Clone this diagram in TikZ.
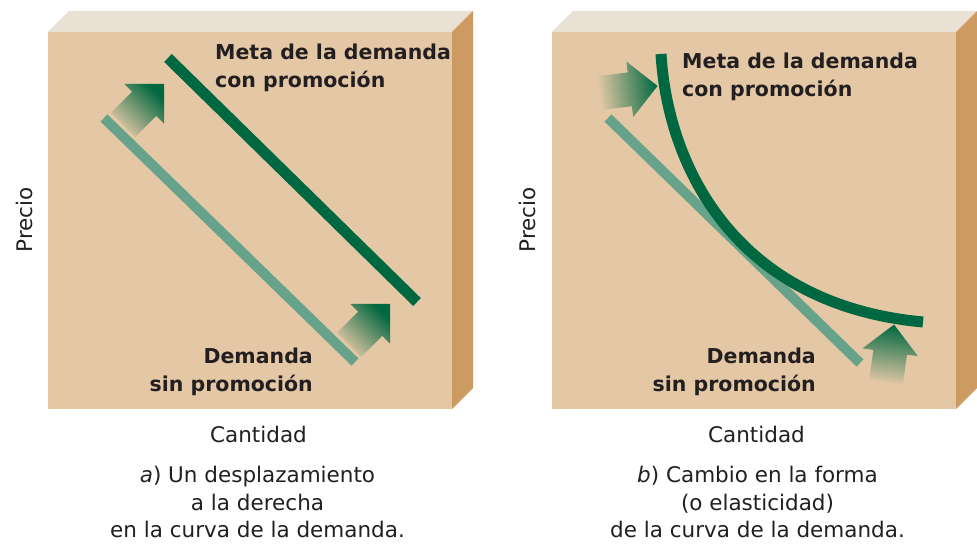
\documentclass[tikz,border=0pt]{standalone}
\usepackage{fontspec}
\setmainfont{DejaVu Sans}
\usepackage{xcolor}
\definecolor{mkFront}{RGB}{228,200,166}
\definecolor{mkTop}{RGB}{233,225,212}
\definecolor{mkSide}{RGB}{205,155,98}
\definecolor{mkDark}{RGB}{0,104,64}
\definecolor{mkLight}{RGB}{102,163,138}
\definecolor{mkText}{RGB}{35,31,32}
\usepackage{tikz}

\begin{document}
\begin{tikzpicture}[x=1pt, y=1pt,
    front/.style={fill=mkFront},
    topface/.style={fill=mkTop},
    sideface/.style={fill=mkSide},
    oldcurve/.style={draw=mkLight, line width=10pt},
    newcurve/.style={draw=mkDark, line width=11pt},
    lbl/.style={font=\fontsize{20.5}{28.5}\selectfont\bfseries, text=mkText, inner sep=0pt},
    axislbl/.style={font=\fontsize{21.5}{27.5}\selectfont, text=mkText, inner sep=0pt},
    caption/.style={axislbl, align=center}
  ]
  \useasboundingbox (0,0) rectangle (977,545);

  % a) shift to the right
  \fill[front] (48,136) rectangle (452,513);
  \fill[topface] (48,513) -- (69,534) -- (473,534) -- (452,513) -- cycle;
  \fill[sideface] (452,513) -- (473,534) -- (473,157) -- (452,136) -- cycle;

  \foreach \px/\py/\rot/\ang in {123/420/45/-45, 349/200/45/-45}
    \shade[shift={(\px,\py)}, rotate=\rot, bottom color=mkFront, top color=mkDark, shading angle=\ang]
      (0,-17) -- (30,-17) -- (30,-28) -- (58,0) -- (30,28) -- (30,17) -- (0,17) -- cycle;

  \draw[oldcurve] (104,427) -- (355,183);
  \draw[newcurve] (168,487) -- (417,243);

  \node[lbl, anchor=base west, align=left] (metaA) at (215,457) {Meta de la demanda\\con promoción};
  \node[lbl, anchor=base east, align=right] (demA) at (313,153) {Demanda\\sin promoción};
  \node[axislbl, rotate=90, anchor=base] (precioA) at (32,325) {Precio};
  \node[axislbl, anchor=base] (cantA) at (258.5,102) {Cantidad};
  \node[caption, anchor=base] (capA) at (257.5,7) {\textit{a}) Un desplazamiento\\a la derecha\\en la curva de la demanda.};

  % b) change of shape
  \begin{scope}[xshift=504]
    \fill[front] (48,136) rectangle (452,513);
    \fill[topface] (48,513) -- (69,534) -- (473,534) -- (452,513) -- cycle;
    \fill[sideface] (452,513) -- (473,534) -- (473,157) -- (452,136) -- cycle;

    \foreach \px/\py/\rot/\ang in {96/452/7/-83, 382/163/82/-8}
      \shade[shift={(\px,\py)}, rotate=\rot, bottom color=mkFront, top color=mkDark, shading angle=\ang]
        (0,-17) -- (30,-17) -- (30,-28) -- (58,0) -- (30,28) -- (30,17) -- (0,17) -- cycle;

    \draw[oldcurve] (104,427) -- (356,182);
    \draw[newcurve] (157,491) .. controls (164,375) and (234,240) .. (419,223);

    \node[lbl, anchor=base west, align=left] (metaB) at (178,448) {Meta de la demanda\\con promoción};
    \node[lbl, anchor=base east, align=right] (demB) at (312,153) {Demanda\\sin promoción};
    \node[axislbl, rotate=90, anchor=base] (precioB) at (31,325) {Precio};
    \node[axislbl, anchor=base] (cantB) at (252.5,102) {Cantidad};
    \node[caption, anchor=base] (capB) at (253.5,7) {\textit{b}) Cambio en la forma\\(o elasticidad)\\de la curva de la demanda.};
  \end{scope}
\end{tikzpicture}
\end{document}
